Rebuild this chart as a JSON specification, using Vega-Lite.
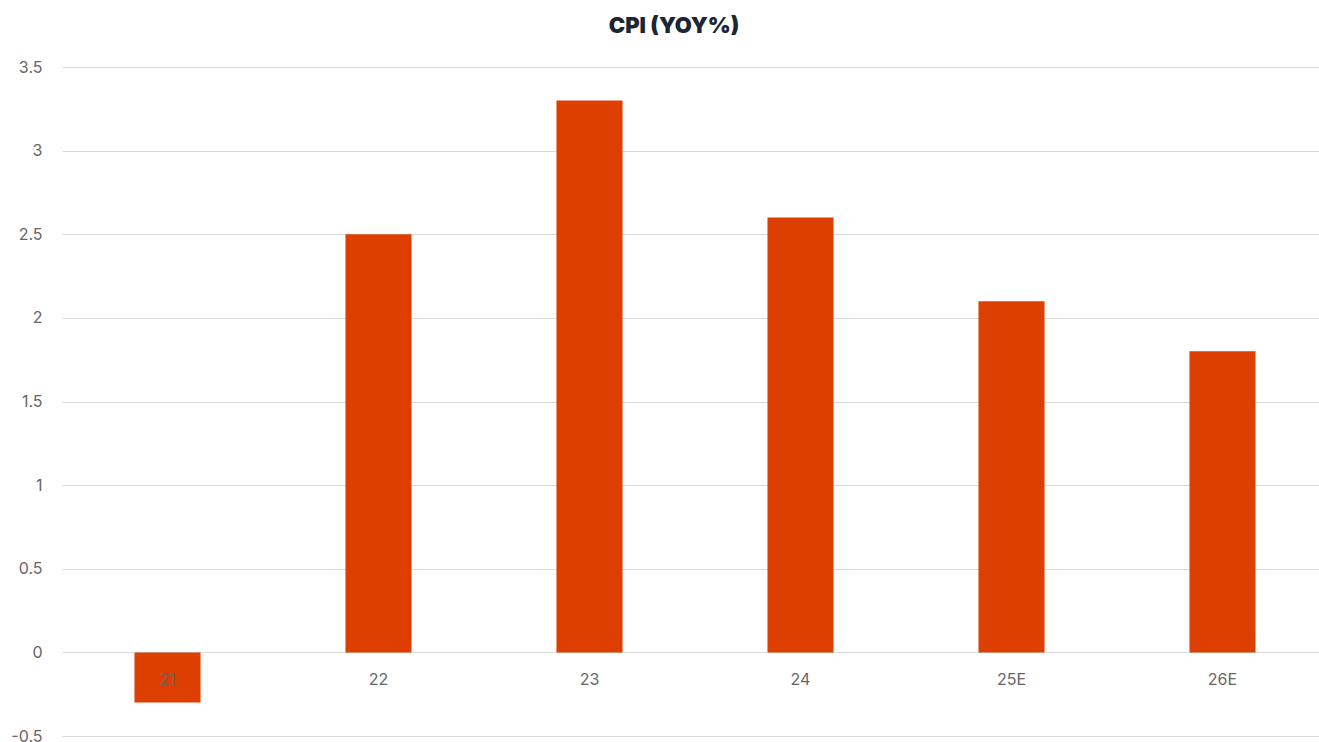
{
  "$schema": "https://vega.github.io/schema/vega-lite/v6.json",
  "autosize": "none",
  "width": 1266,
  "height": 669,
  "padding": {"left": 62, "top": 67, "right": 0, "bottom": 6},
  "background": "white",
  "title": {
    "text": "CPI (YOY%)",
    "font": "Inter",
    "fontSize": 22,
    "fontWeight": 900,
    "color": "#1b2533",
    "anchor": "middle",
    "dx": -21,
    "offset": 21
  },
  "data": {
    "values": [
      {"year": "21", "cpi": -0.3},
      {"year": "22", "cpi": 2.5},
      {"year": "23", "cpi": 3.3},
      {"year": "24", "cpi": 2.6},
      {"year": "25E", "cpi": 2.1},
      {"year": "26E", "cpi": 1.8}
    ]
  },
  "config": {"view": {"stroke": null}},
  "encoding": {
    "x": {
      "field": "year",
      "type": "nominal",
      "sort": null,
      "scale": {"paddingInner": 0.687, "paddingOuter": 0.3435},
      "axis": null
    }
  },
  "layer": [
    {
      "mark": {"type": "bar", "color": "#dc3f00"},
      "encoding": {
        "y": {
          "field": "cpi",
          "type": "quantitative",
          "scale": {"domain": [-0.5, 3.5], "nice": false, "zero": false},
          "axis": {
            "title": null,
            "values": [-0.5, 0, 0.5, 1, 1.5, 2, 2.5, 3, 3.5],
            "labelExpr": "toString(datum.value)",
            "domain": false,
            "ticks": false,
            "grid": true,
            "gridColor": "#d9d9d9",
            "gridWidth": 1,
            "labelFont": "Inter",
            "labelFontSize": 16,
            "labelColor": "#666666",
            "labelPadding": 20
          }
        },
        "y2": {"datum": 0}
      }
    },
    {
      "mark": {"type": "text", "font": "Inter", "fontSize": 16, "color": "#666666", "dy": 28, "baseline": "middle"},
      "encoding": {
        "y": {"datum": 0},
        "text": {"field": "year", "type": "nominal"}
      }
    }
  ]
}
